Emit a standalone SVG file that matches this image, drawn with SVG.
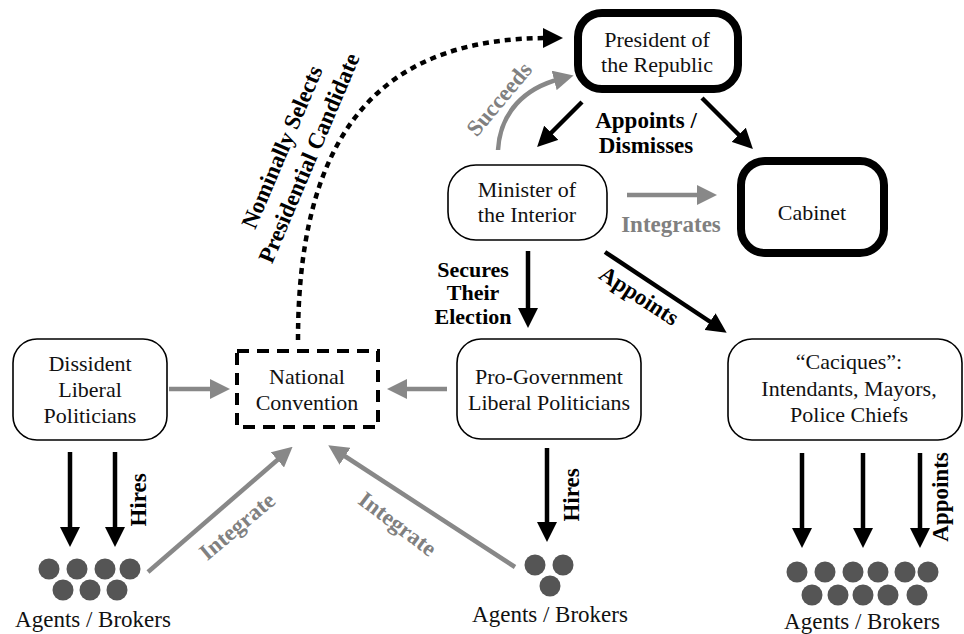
<svg xmlns="http://www.w3.org/2000/svg" width="964" height="634" viewBox="0 0 964 634">
<style>
.node{fill:#fff;stroke:#000;stroke-width:1.6}
.thick{fill:#fff;stroke:#000;stroke-width:8}
.t{font-family:"Liberation Serif","Times New Roman",serif;font-size:22px;fill:#111;text-anchor:middle}
.lb{font-family:"Liberation Serif","Times New Roman",serif;font-size:23px;font-weight:bold;fill:#000;text-anchor:middle}
.lg{font-family:"Liberation Serif","Times New Roman",serif;font-size:23px;font-weight:bold;fill:#808080;text-anchor:middle}
.blk{fill:none;stroke:#000;stroke-width:4.5}
.gry{fill:none;stroke:#888;stroke-width:4.5}
.dot{fill:#555}
</style>
<defs>
<marker id="ah" viewBox="0 0 20 20" refX="6" refY="10" markerWidth="20" markerHeight="20" markerUnits="userSpaceOnUse" orient="auto"><path d="M0,0 L20,10 L0,20 z" fill="#000"/></marker>
<marker id="gh" viewBox="0 0 20 20" refX="6" refY="10" markerWidth="20" markerHeight="20" markerUnits="userSpaceOnUse" orient="auto"><path d="M0,0 L20,10 L0,20 z" fill="#888"/></marker>
</defs>
<rect width="964" height="634" fill="#fff"/>
<g id="connectors">
<path class="blk" d="M298,340 C298,110 400,38 549,38" stroke-dasharray="6 5" stroke-width="5" marker-end="url(#ah)"/>
<path class="gry" d="M498,150 C500,112 525,88 560,79" marker-end="url(#gh)"/>
<path class="blk" d="M582,102 L547,137" marker-end="url(#ah)"/>
<path class="blk" d="M702,98 L743,139" marker-end="url(#ah)"/>
<path class="gry" d="M627,195 L703,195" marker-end="url(#gh)"/>
<path class="blk" d="M528,251 L528,314" marker-end="url(#ah)"/>
<path class="blk" d="M605,252 L715,325" marker-end="url(#ah)"/>
<path class="gry" d="M169,389 L216,389" marker-end="url(#gh)"/>
<path class="gry" d="M447,389 L401,389" marker-end="url(#gh)"/>
<path class="blk" d="M70,452 L70,533" marker-end="url(#ah)"/>
<path class="blk" d="M115,452 L115,533" marker-end="url(#ah)"/>
<path class="blk" d="M547,448 L547,528" marker-end="url(#ah)"/>
<path class="blk" d="M802,453 L802,534" marker-end="url(#ah)"/>
<path class="blk" d="M863,453 L863,534" marker-end="url(#ah)"/>
<path class="blk" d="M920,453 L920,534" marker-end="url(#ah)"/>
<path class="gry" d="M148,572 L282,456" marker-end="url(#gh)"/>
<path class="gry" d="M515,567 L340,453" marker-end="url(#gh)"/>
<text class="lb" transform="translate(289,150) rotate(-67)">Nominally Selects</text>
<text class="lb" transform="translate(316,161) rotate(-67)">Presidential Candidate</text>
<text class="lg" transform="translate(505,104) rotate(-50)">Succeeds</text>
<text class="lb" x="646" y="128">Appoints /</text>
<text class="lb" x="646" y="153">Dismisses</text>
<text class="lg" x="671" y="232">Integrates</text>
<text class="lb" x="473" y="277" style="font-size:22px">Secures</text>
<text class="lb" x="473" y="300" style="font-size:22px">Their</text>
<text class="lb" x="473" y="324" style="font-size:22px">Election</text>
<text class="lb" transform="translate(635,302) rotate(33)">Appoints</text>
<text class="lb" transform="translate(146,500) rotate(-90)">Hires</text>
<text class="lb" transform="translate(579,495) rotate(-90)">Hires</text>
<text class="lb" transform="translate(948,497) rotate(-90)">Appoints</text>
<text class="lg" transform="translate(242,532) rotate(-40)">Integrate</text>
<text class="lg" transform="translate(393,530) rotate(37)">Integrate</text>
</g>
<g id="president">
<rect class="thick" x="578" y="13" width="160" height="76" rx="24"/>
<text class="t" x="657" y="47">President of</text>
<text class="t" x="657" y="72">the Republic</text>
</g>
<g id="cabinet">
<rect class="thick" x="741" y="161" width="143" height="92" rx="24"/>
<text class="t" x="812" y="220">Cabinet</text>
</g>
<g id="minister">
<rect class="node" x="448" y="165" width="159" height="75" rx="28"/>
<text class="t" x="527" y="197">Minister of</text>
<text class="t" x="527" y="222">the Interior</text>
</g>
<g id="dissident">
<rect class="node" x="13" y="339" width="154" height="101" rx="24"/>
<text class="t" x="90" y="371">Dissident</text>
<text class="t" x="90" y="397">Liberal</text>
<text class="t" x="90" y="423">Politicians</text>
</g>
<g id="convention">
<rect x="237" y="351" width="141" height="76" fill="#fff" stroke="#000" stroke-width="4" stroke-dasharray="12 8"/>
<text class="t" x="307" y="384">National</text>
<text class="t" x="307" y="410">Convention</text>
</g>
<g id="progov">
<rect class="node" x="457" y="339" width="184" height="100" rx="24"/>
<text class="t" x="549" y="384">Pro-Government</text>
<text class="t" x="549" y="410">Liberal Politicians</text>
</g>
<g id="caciques">
<rect class="node" x="728" y="339" width="234" height="101" rx="24"/>
<text class="t" x="849" y="369">“Caciques”:</text>
<text class="t" x="849" y="396">Intendants, Mayors,</text>
<text class="t" x="849" y="422">Police Chiefs</text>
</g>
<g id="agents-left">
<circle class="dot" cx="49" cy="569" r="10.5"/><circle class="dot" cx="77" cy="569" r="10.5"/><circle class="dot" cx="105" cy="569" r="10.5"/><circle class="dot" cx="130" cy="569" r="10.5"/>
<circle class="dot" cx="63" cy="590" r="10.5"/><circle class="dot" cx="90" cy="590" r="10.5"/><circle class="dot" cx="117" cy="590" r="10.5"/>
<text class="t" x="93" y="627" style="font-size:23px">Agents / Brokers</text>
</g>
<g id="agents-middle">
<circle class="dot" cx="535" cy="565" r="10.5"/><circle class="dot" cx="563" cy="565" r="10.5"/><circle class="dot" cx="550" cy="586" r="10.5"/>
<text class="t" x="550" y="622" style="font-size:23px">Agents / Brokers</text>
</g>
<g id="agents-right">
<circle class="dot" cx="797" cy="572" r="10.5"/><circle class="dot" cx="825" cy="572" r="10.5"/><circle class="dot" cx="853" cy="572" r="10.5"/><circle class="dot" cx="878" cy="572" r="10.5"/><circle class="dot" cx="905" cy="572" r="10.5"/><circle class="dot" cx="928" cy="572" r="10.5"/>
<circle class="dot" cx="812" cy="595" r="10.5"/><circle class="dot" cx="838" cy="595" r="10.5"/><circle class="dot" cx="863" cy="595" r="10.5"/><circle class="dot" cx="888" cy="595" r="10.5"/><circle class="dot" cx="917" cy="595" r="10.5"/>
<text class="t" x="862" y="629" style="font-size:23px">Agents / Brokers</text>
</g>
</svg>
